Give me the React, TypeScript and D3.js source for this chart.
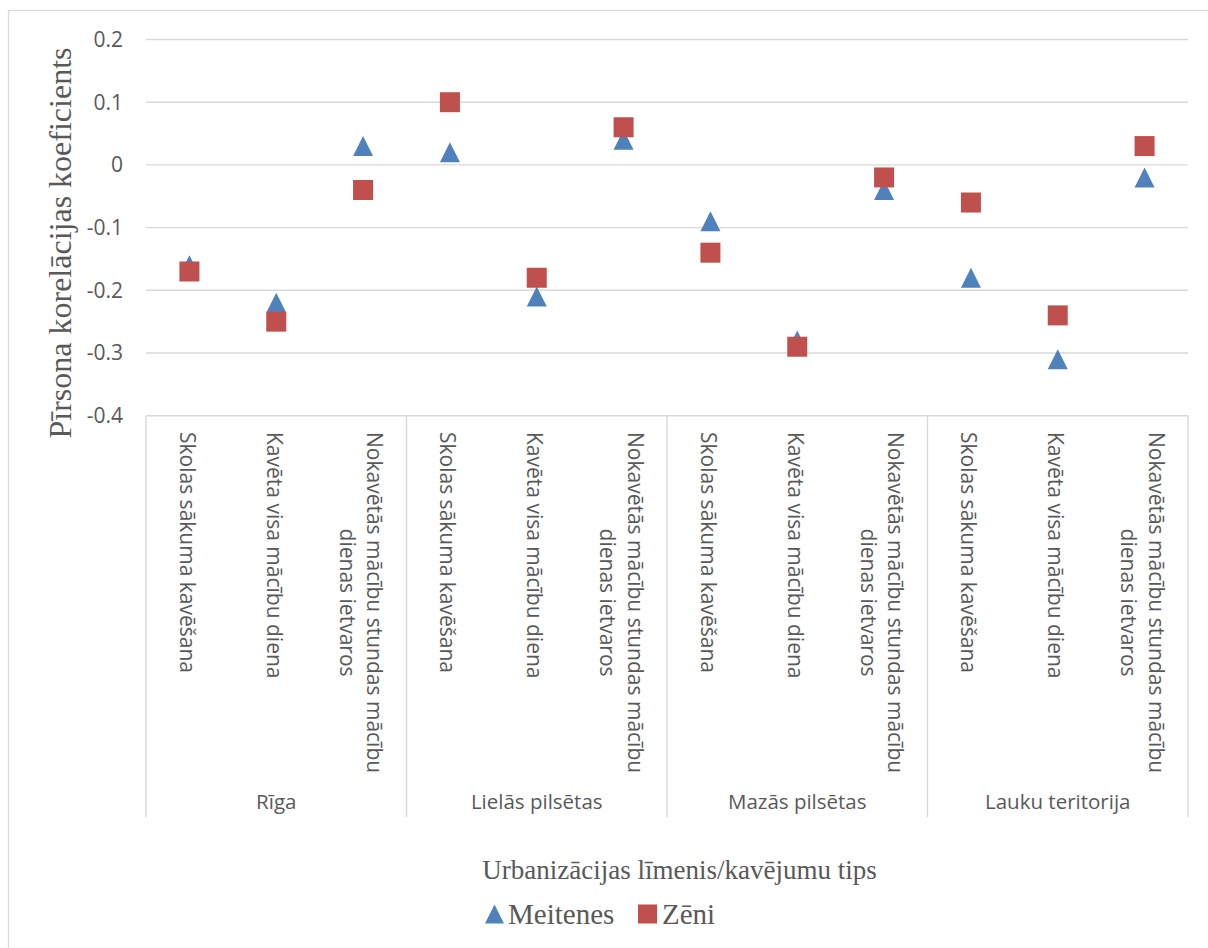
import React, { useEffect, useRef } from "react";
import * as d3 from "d3";

// Urbanisation levels (outer category level)
const groups = ["Rīga", "Lielās pilsētas", "Mazās pilsētas", "Lauku teritorija"];
// Absence types (inner category level), split into display lines
const absenceTypes: string[][] = [
  ["Skolas sākuma kavēšana"],
  ["Kavēta visa mācību diena"],
  ["Nokavētās mācību stundas mācību", "dienas ietvaros"],
];
// Pearson correlation coefficients, in group order × absence type order
const girls = [-0.16, -0.22, 0.03, 0.02, -0.21, 0.04, -0.09, -0.28, -0.04, -0.18, -0.31, -0.02];
const boys = [-0.17, -0.25, -0.04, 0.1, -0.18, 0.06, -0.14, -0.29, -0.02, -0.06, -0.24, 0.03];
const yTicks = [0.2, 0.1, 0, -0.1, -0.2, -0.3, -0.4];
const seriesNames = ["Meitenes", "Zēni"];
const yTitle = "Pīrsona korelācijas koeficients";
const xTitle = "Urbanizācijas līmenis/kavējumu tips";

const W = 1208;
const H = 948;
const GRID = "#d9d9d9";
const TEXT = "#595959";
const BLUE = "#4f81bd";
const RED = "#c0504d";
const SANS = "'Open Sans', 'Noto Sans', sans-serif";
const SERIF = "'Liberation Serif', 'DejaVu Serif', serif";

export default function App() {
  const ref = useRef<SVGSVGElement | null>(null);

  useEffect(() => {
    const svg = d3.select(ref.current);
    svg.selectAll("*").remove();

    const plot = { left: 146, right: 1188, top: 39.5, bottom: 415.7 };
    const catIds = groups.flatMap((g, gi) => absenceTypes.map((_, ti) => `${gi}-${ti}`));
    const x = d3.scaleBand<string>().domain(catIds).range([plot.left, plot.right]);
    const gx = d3.scaleBand<string>().domain(groups).range([plot.left, plot.right]);
    const y = d3.scaleLinear().domain([-0.4, 0.2]).range([plot.bottom, plot.top]);
    const cx = (i: number) => (x(catIds[i]) as number) + x.bandwidth() / 2;

    // chart frame
    svg
      .append("rect")
      .attr("x", 8.5)
      .attr("y", 10.5)
      .attr("width", W + 20)
      .attr("height", H + 20)
      .attr("fill", "#fff")
      .attr("stroke", GRID)
      .attr("stroke-width", 1.3);

    // horizontal gridlines + y tick labels
    const gy = svg.append("g");
    yTicks.forEach((t) => {
      gy.append("line")
        .attr("x1", plot.left)
        .attr("x2", plot.right)
        .attr("y1", y(t))
        .attr("y2", y(t))
        .attr("stroke", GRID)
        .attr("stroke-width", 1.4);
      gy.append("text")
        .attr("x", 123)
        .attr("y", y(t))
        .attr("dy", "0.35em")
        .attr("text-anchor", "end")
        .attr("font-family", SANS)
        .attr("font-size", 21)
        .attr("fill", TEXT)
        .text(d3.format(".1~f")(t).replace("−", "-"));
    });

    // group separators on the category axis
    const sepBottom = 817;
    const bounds = groups.map((g) => gx(g) as number).concat([plot.right]);
    bounds.forEach((b) => {
      svg
        .append("line")
        .attr("x1", b)
        .attr("x2", b)
        .attr("y1", plot.bottom)
        .attr("y2", sepBottom)
        .attr("stroke", GRID)
        .attr("stroke-width", 1.4);
    });

    // inner category labels (rotated, reading downward)
    const labTop = 432;
    const lineGap = 27.5;
    catIds.forEach((id, i) => {
      const lines = absenceTypes[i % absenceTypes.length];
      const c = cx(i) - 1.5;
      const nodes: SVGTextElement[] = [];
      lines.forEach((ln) => {
        const t = svg
          .append("text")
          .attr("font-family", SANS)
          .attr("font-size", 21)
          .attr("fill", TEXT)
          .attr("text-anchor", "middle")
          .attr("dominant-baseline", "central")
          .text(ln);
        nodes.push(t.node() as SVGTextElement);
      });
      const maxLen = d3.max(nodes, (n) => n.getComputedTextLength()) || 0;
      nodes.forEach((n, li) => {
        const off = (li - (lines.length - 1) / 2) * lineGap;
        const px = c - off;
        const py = labTop + maxLen / 2;
        d3.select(n).attr("transform", `translate(${px},${py}) rotate(90)`);
      });
    });

    // outer group labels
    groups.forEach((g) => {
      svg
        .append("text")
        .attr("x", (gx(g) as number) + gx.bandwidth() / 2)
        .attr("y", 802)
        .attr("dy", "0.35em")
        .attr("text-anchor", "middle")
        .attr("font-family", SANS)
        .attr("font-size", 20.5)
        .attr("fill", TEXT)
        .text(g);
    });

    // markers
    const tri = (px: number, py: number, s: number) =>
      `M${px},${py - s / 2}L${px + s / 2},${py + s / 2}L${px - s / 2},${py + s / 2}Z`;
    const sq = 20;
    svg
      .append("g")
      .selectAll("path")
      .data(girls)
      .join("path")
      .attr("d", (v, i) => tri(cx(i), y(v), 20))
      .attr("fill", BLUE);
    svg
      .append("g")
      .selectAll("rect")
      .data(boys)
      .join("rect")
      .attr("x", (v, i) => cx(i) - sq / 2)
      .attr("y", (v) => y(v) - sq / 2)
      .attr("width", sq)
      .attr("height", sq)
      .attr("fill", RED);

    // axis titles
    svg
      .append("text")
      .attr("transform", `translate(60,243) rotate(-90)`)
      .attr("text-anchor", "middle")
      .attr("dominant-baseline", "central")
      .attr("font-family", SERIF)
      .attr("font-size", 32)
      .attr("fill", TEXT)
      .text(yTitle);
    svg
      .append("text")
      .attr("x", 679.5)
      .attr("y", 879)
      .attr("text-anchor", "middle")
      .attr("font-family", SERIF)
      .attr("font-size", 27)
      .attr("fill", TEXT)
      .text(xTitle);

    // legend
    const lg = svg.append("g");
    lg.append("path").attr("d", tri(494.5, 914, 19)).attr("fill", BLUE);
    lg.append("text")
      .attr("x", 508)
      .attr("y", 924)
      .attr("font-family", SERIF)
      .attr("font-size", 29)
      .attr("fill", TEXT)
      .text(seriesNames[0]);
    lg.append("rect").attr("x", 638).attr("y", 904.5).attr("width", 19).attr("height", 19).attr("fill", RED);
    lg.append("text")
      .attr("x", 662)
      .attr("y", 924)
      .attr("font-family", SERIF)
      .attr("font-size", 29)
      .attr("fill", TEXT)
      .text(seriesNames[1]);
  }, []);

  return (
    <svg
      ref={ref}
      width={W}
      height={H}
      style={{ position: "absolute", left: 0, top: 0, background: "#fff" }}
    />
  );
}
